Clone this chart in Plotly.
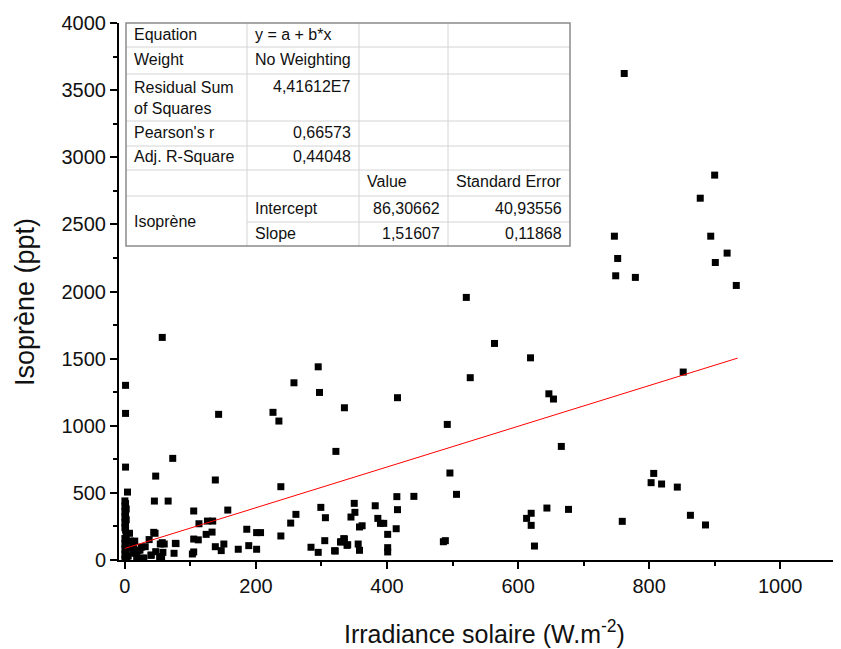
"""Isoprene vs solar irradiance scatter with linear fit and Origin-style stats table."""

import plotly.graph_objects as go

# ── Data ───────────────────────────────────────────────────────────────────
irradiance = [
    762, 900, 878, 747, 894, 752, 919, 901, 749, 779, 933, 852, 807, 803, 819, 843, 863, 886, 759,
    521, 564, 619, 527, 416, 335, 647, 654, 492, 322, 666, 496, 506, 415, 441, 350, 382, 416, 351,
    345, 386, 390, 395, 362, 358, 414, 401, 334, 330, 340, 356, 358, 321, 401, 401, 486, 489, 613,
    620, 620, 625, 644, 677,
    57, 1, 1, 143, 295, 258, 297, 226, 235, 73, 1, 47, 138, 238, 4, 45, 66, 299, 157, 105, 261,
    306, 126, 134, 113, 253, 186, 201, 207, 133, 124, 7, 138, 147, 151, 173, 189, 201, 238, 284,
    295, 305, 320, 329, 335, 339, 105, 112, 105, 103, 78, 75, 60, 54, 58, 56, 46, 37, 25, 31, 23,
    15, 40, 28, 8, 13, 1, 44, 57, 77, 47, 40, 29, 53,
    0, 1, 0, 2, 0, 1, 0, 2, 0, 1, 0, 2, 0, 1, 0, 2, 0, 1, 0, 3, 0, 5, 10, 12, 18, 20,
]
isoprene = [
    3624, 2867, 2695, 2412, 2412, 2246, 2286, 2216, 2117, 2105, 2045, 1400, 645, 576, 566, 543, 333, 261, 288,
    1956, 1613, 1506, 1358, 1209, 1134, 1238, 1199, 1010, 809, 846, 648, 489, 472, 474, 422, 404, 375, 355,
    320, 310, 273, 273, 255, 246, 233, 191, 159, 136, 114, 119, 72, 67, 92, 60, 136, 144, 310,
    348, 258, 104, 387, 377,
    1658, 1301, 1092, 1085, 1439, 1320, 1248, 1100, 1035, 757, 692, 625, 596, 546, 506, 439, 439, 392, 372, 365, 340,
    315, 290, 290, 270, 275, 229, 204, 204, 208, 191, 199, 99, 70, 119, 80, 107, 80, 179, 95,
    57, 144, 69, 134, 156, 109, 156, 150, 60, 45, 122, 50, 119, 119, 57, 25, 199, 152, 95, 99, 74,
    141, 35, 15, 141, 119, 223, 206, 129, 124, 62, 37, 13, 17,
    440, 420, 400, 380, 360, 340, 320, 300, 280, 260, 240, 180, 160, 140, 120, 100, 80, 60, 40, 20, 5, 30, 90, 50, 25, 70,
]

fit_intercept = 86.30662
fit_slope = 1.51607
fit_x = [0, 935]

x_ticks = [0, 200, 400, 600, 800, 1000]
y_ticks = [0, 500, 1000, 1500, 2000, 2500, 3000, 3500, 4000]

x_title = "Irradiance solaire (W.m<sup>-2</sup>)"
y_title = "Isoprène (ppt)"

table_rows = [
    ["Equation", "y = a + b*x", "", ""],
    ["Weight", "No Weighting", "", ""],
    ["Residual Sum<br>of Squares", "4,41612E7", "", ""],
    ["Pearson's r", "0,66573", "", ""],
    ["Adj. R-Square", "0,44048", "", ""],
    ["", "", "Value", "Standard Error"],
    ["Isoprène", "Intercept", "86,30662", "40,93556"],
    ["", "Slope", "1,51607", "0,11868"],
]

# ── Layout geometry (page pixels; the page body adds an 8px offset) ────────
OFF = 8
W, H = 841, 649 - OFF
PL, PR, PT, PB = 119, 849, 23, 560
FONT = "Liberation Sans, Arial, sans-serif"

COL_EDGES = [126, 247, 359, 448, 570]
ROW_EDGES = [23, 47, 74, 121, 146, 170, 196, 222, 246]


def px(x):
    return (x - PL) / (PR - PL)


def py(y):
    return (PB - y) / (PB - PT)


fig = go.Figure()

fig.add_trace(go.Scatter(
    x=irradiance,
    y=isoprene,
    mode="markers",
    marker=dict(symbol="square", size=7, color="black", line=dict(width=0)),
    showlegend=False,
))

fig.add_trace(go.Scatter(
    x=fit_x,
    y=[fit_intercept + fit_slope * v for v in fit_x],
    mode="lines",
    line=dict(color="#ff0000", width=1),
    showlegend=False,
))

# ── Stats table drawn as shapes + annotations ─────────────────────────────
shapes = []
annotations = []
inner = "#d4d4d4"
outer = "#8a8a8a"

shapes.append(dict(type="rect", xref="paper", yref="paper",
                   x0=px(COL_EDGES[0]), x1=px(COL_EDGES[-1]),
                   y0=py(ROW_EDGES[-1]), y1=py(ROW_EDGES[0]),
                   fillcolor="white", line=dict(width=0), layer="above"))

# horizontal inner lines (first column skips the Isoprène merge line)
for i, ry in enumerate(ROW_EDGES[1:-1], start=1):
    x0 = COL_EDGES[1] if i == 7 else COL_EDGES[0]
    shapes.append(dict(type="line", xref="paper", yref="paper",
                       x0=px(x0), x1=px(COL_EDGES[-1]), y0=py(ry), y1=py(ry),
                       line=dict(color=inner, width=1), layer="above"))
for cx in COL_EDGES[1:-1]:
    shapes.append(dict(type="line", xref="paper", yref="paper",
                       x0=px(cx), x1=px(cx), y0=py(ROW_EDGES[0]), y1=py(ROW_EDGES[-1]),
                       line=dict(color=inner, width=1), layer="above"))
shapes.append(dict(type="rect", xref="paper", yref="paper",
                   x0=px(COL_EDGES[0]), x1=px(COL_EDGES[-1]),
                   y0=py(ROW_EDGES[-1]), y1=py(ROW_EDGES[0]),
                   line=dict(color=outer, width=1.5), layer="above"))

for r, row in enumerate(table_rows):
    top, bot = ROW_EDGES[r], ROW_EDGES[r + 1]
    for c, text in enumerate(row):
        if not text:
            continue
        numeric = text[0].isdigit()
        if c == 0 and text == "Isoprène":
            ymid = (ROW_EDGES[6] + ROW_EDGES[8]) / 2
        elif r == 2:
            ymid = top + 12 if c > 0 else (top + bot) / 2
        else:
            ymid = (top + bot) / 2 - 1
        if numeric:
            xa, xpos = "right", COL_EDGES[c + 1] - 6
        else:
            xa, xpos = "left", COL_EDGES[c] + 6
        annotations.append(dict(
            xref="paper", yref="paper", x=px(xpos), y=py(ymid),
            xanchor=xa, yanchor="middle", text=text, showarrow=False, align="left",
            font=dict(family=FONT, size=16, color="#111111"),
        ))

# axis titles as annotations for exact placement
annotations.append(dict(
    xref="paper", yref="paper", x=px(484), y=py(632), xanchor="center", yanchor="middle",
    text=x_title, showarrow=False, font=dict(family=FONT, size=25, color="#111111"),
))
annotations.append(dict(
    xref="paper", yref="paper", x=px(25), y=py(302), xanchor="center", yanchor="middle",
    text=y_title, textangle=-90, showarrow=False, font=dict(family=FONT, size=27, color="#111111"),
))

fig.update_layout(
    width=W, height=H,
    margin=dict(l=PL - OFF, r=0, t=PT - OFF, b=H - (PB - OFF), autoexpand=False),
    paper_bgcolor="white",
    plot_bgcolor="white",
    font=dict(family=FONT, color="black"),
    shapes=shapes,
    annotations=annotations,
    xaxis=dict(
        range=[-9, 1105], tickvals=x_ticks, showgrid=False, zeroline=False,
        showline=True, linecolor="black", linewidth=2,
        ticks="outside", ticklen=7, tickwidth=1.5, tickcolor="black",
        minor=dict(dtick=100, tick0=0, ticks="outside", ticklen=4, tickcolor="black"),
        tickfont=dict(size=20, color="#111111"),
    ),
    yaxis=dict(
        range=[0, 4000], tickvals=y_ticks, showgrid=False, zeroline=False,
        showline=True, linecolor="black", linewidth=2,
        ticks="outside", ticklen=7, tickwidth=1.5, tickcolor="black",
        minor=dict(dtick=250, tick0=0, ticks="outside", ticklen=4, tickcolor="black"),
        tickfont=dict(size=20, color="#111111"),
    ),
)

fig.write_html("out.html")
